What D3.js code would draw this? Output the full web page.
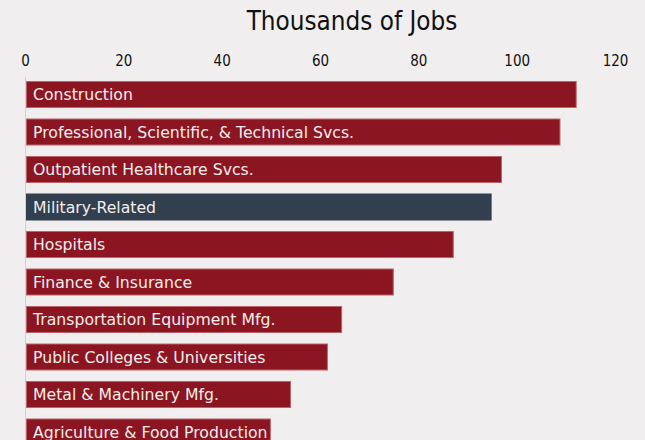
<!DOCTYPE html>
<html>
<head>
<meta charset="utf-8">
<script src="https://cdn.jsdelivr.net/npm/d3@7"></script>
<style>
  html, body { margin: 0; padding: 0; background: #f1eeef; }
  svg { display: block; }
</style>
</head>
<body>
<svg id="chart" width="645" height="440"></svg>
<script>
const categories = [
  "Construction",
  "Professional, Scientific, & Technical Svcs.",
  "Outpatient Healthcare Svcs.",
  "Military-Related",
  "Hospitals",
  "Finance & Insurance",
  "Transportation Equipment Mfg.",
  "Public Colleges & Universities",
  "Metal & Machinery Mfg.",
  "Agriculture & Food Production"
];
const values = [112, 108.7, 96.8, 94.7, 87.0, 74.8, 64.3, 61.4, 53.9, 49.8];
const highlighted = ["Military-Related"];
const tickValues = [0, 20, 40, 60, 80, 100, 120];
const titleText = "Thousands of Jobs";

const svg = d3.select("#chart");
const W = 645, H = 440;
const fontC = "'DejaVu Sans Condensed', 'DejaVu Sans', sans-serif";
const fontN = "'DejaVu Sans', sans-serif";

svg.append("rect").attr("width", W).attr("height", H).attr("fill", "#f1eeef");

const x = d3.scaleLinear().domain([0, 120]).range([25, 615]);
const y = d3.scaleBand().domain(categories).range([75.75, 75.75 + 375])
  .paddingInner(0.28).paddingOuter(0.14);

svg.append("text")
  .attr("x", 352).attr("y", 30)
  .attr("text-anchor", "middle")
  .attr("font-family", fontC)
  .attr("font-size", 25.8)
  .attr("fill", "#111")
  .text(titleText);

const axis = d3.axisTop(x).tickValues(tickValues).tickSize(0).tickPadding(0);
const gA = svg.append("g").attr("transform", "translate(0,66)").call(axis);
gA.select(".domain").remove();
gA.selectAll("text")
  .attr("font-family", fontC)
  .attr("font-size", 15)
  .attr("fill", "#111");

svg.append("line")
  .attr("x1", x(0) + 0.5).attr("x2", x(0) + 0.5)
  .attr("y1", 77).attr("y2", H)
  .attr("stroke", "#d4d0d2").attr("stroke-width", 1);

const g = svg.append("g");
g.selectAll("rect.bar").data(categories).join("rect")
  .attr("class", "bar")
  .attr("x", x(0) + 1.5)
  .attr("y", d => y(d) + 0.5)
  .attr("width", (d, i) => x(values[i]) - x(0) - 1)
  .attr("height", y.bandwidth() - 1)
  .attr("fill", d => highlighted.includes(d) ? "#323f4f" : "#8b1520")
  .attr("stroke", d => highlighted.includes(d) ? "#323f4f" : "#b9636a")
  .attr("stroke-width", 1);

g.selectAll("text.lab").data(categories).join("text")
  .attr("class", "lab")
  .attr("x", x(0) + 8)
  .attr("y", d => y(d) + y.bandwidth() / 2)
  .attr("dy", "0.36em")
  .attr("font-family", fontN)
  .attr("font-size", 15.7)
  .attr("fill", "#f3eeee")
  .text(d => d);
</script>
</body>
</html>
